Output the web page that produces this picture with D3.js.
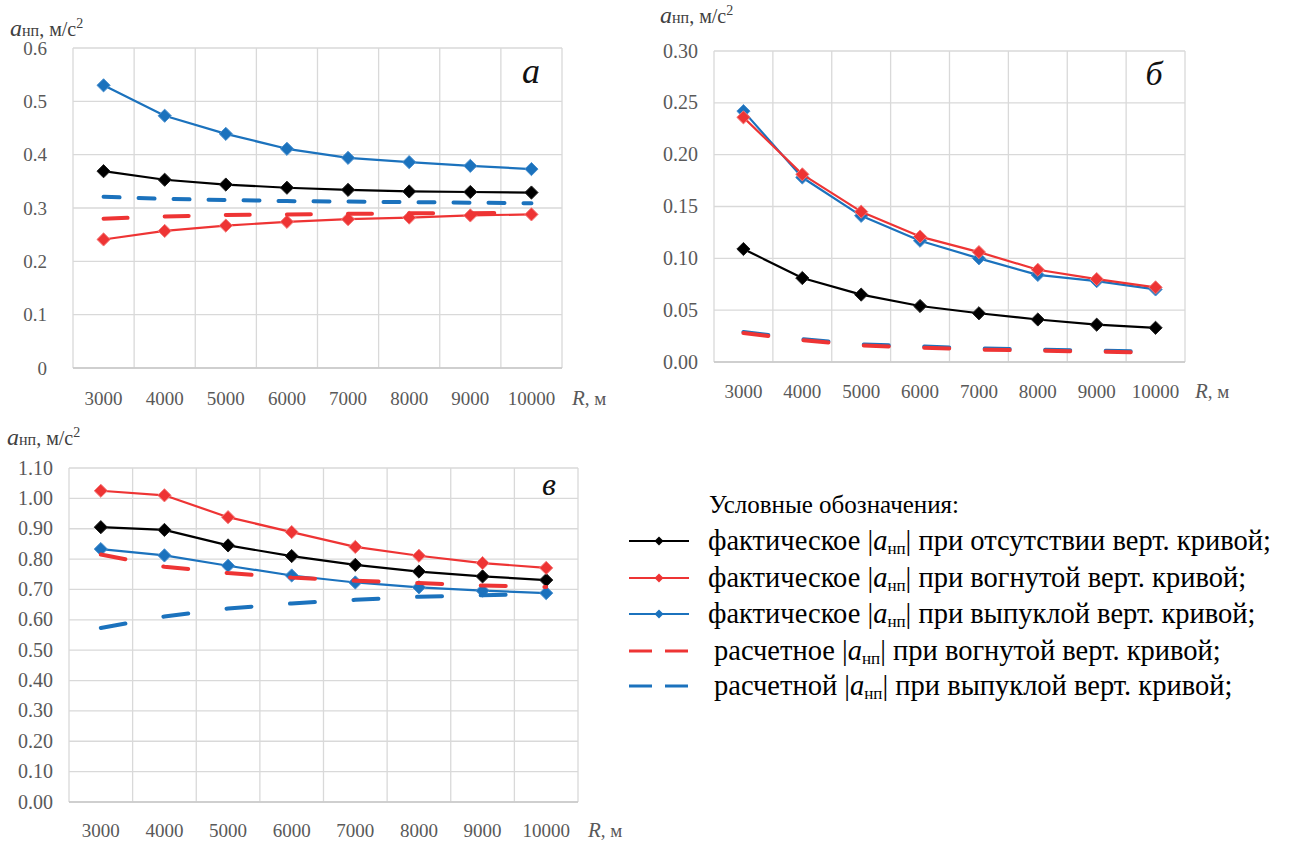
<!DOCTYPE html>
<html>
<head>
<meta charset="utf-8">
<script src="https://cdn.jsdelivr.net/npm/d3@7"></script>
<style>
  html, body { margin: 0; padding: 0; background: #fff; }
</style>
</head>
<body>
<svg id="fig" width="1289" height="842" font-family="'Liberation Serif', 'DejaVu Serif', serif"></svg>
<script>
// Радиус вертикальной кривой, м
const categories = [3000, 4000, 5000, 6000, 7000, 8000, 9000, 10000];

// График а
const aFactNone    = [0.369, 0.353, 0.344, 0.338, 0.334, 0.331, 0.330, 0.329];
const aFactConcave = [0.241, 0.257, 0.267, 0.274, 0.279, 0.282, 0.286, 0.288];
const aFactConvex  = [0.530, 0.473, 0.439, 0.411, 0.394, 0.386, 0.379, 0.373];
const aCalcConcave = [0.280, 0.284, 0.287, 0.288, 0.289, 0.290, 0.290, 0.291];
const aCalcConvex  = [0.321, 0.317, 0.315, 0.313, 0.312, 0.311, 0.310, 0.309];
const aTicks = [0, 0.1, 0.2, 0.3, 0.4, 0.5, 0.6];

// График б
const bFactNone    = [0.109, 0.081, 0.065, 0.054, 0.047, 0.041, 0.036, 0.033];
const bFactConcave = [0.236, 0.181, 0.145, 0.121, 0.106, 0.089, 0.080, 0.072];
const bFactConvex  = [0.242, 0.178, 0.141, 0.117, 0.100, 0.084, 0.078, 0.070];
const bCalcConcave = [0.028, 0.021, 0.016, 0.014, 0.012, 0.011, 0.010, 0.009];
const bCalcConvex  = [0.029, 0.022, 0.017, 0.015, 0.013, 0.012, 0.011, 0.010];
const bTicks = [0, 0.05, 0.10, 0.15, 0.20, 0.25, 0.30];

// График в
const cFactNone    = [0.905, 0.896, 0.845, 0.810, 0.781, 0.759, 0.743, 0.731];
const cFactConcave = [1.025, 1.010, 0.938, 0.889, 0.840, 0.811, 0.787, 0.771];
const cFactConvex  = [0.833, 0.812, 0.778, 0.746, 0.723, 0.707, 0.696, 0.688];
const cCalcConcave = [0.815, 0.775, 0.754, 0.739, 0.729, 0.721, 0.713, 0.708];
const cCalcConvex  = [0.573, 0.611, 0.637, 0.654, 0.666, 0.676, 0.681, 0.686];
const cTicks = [0, 0.1, 0.2, 0.3, 0.4, 0.5, 0.6, 0.7, 0.8, 0.9, 1.0, 1.1];

const legendTitle = "Условные обозначения:";
const legendItems = [
  { pre: "фактическое |", post: "| при отсутствии верт. кривой;", kind: "none" },
  { pre: "фактическое |", post: "| при вогнутой верт. кривой;", kind: "factConcave" },
  { pre: "фактическое |", post: "| при выпуклой верт. кривой;", kind: "factConvex" },
  { pre: "расчетное |", post: "| при вогнутой верт. кривой;", kind: "calcConcave" },
  { pre: "расчетной |", post: "| при выпуклой верт. кривой;", kind: "calcConvex" }
];

const BLACK = "#000000", RED = "#ee3434", BLUE = "#1b72bd";
const GRID = "#d9d9d9", TICK = "#595959";
const svg = d3.select("#fig");

const diamond = r => `M0,${-r}L${r},0L0,${r}L${-r},0Z`;

function drawChart(cfg) {
  const g = svg.append("g");
  const x = d3.scaleBand().domain(categories).range([cfg.left, cfg.right]).paddingInner(0).paddingOuter(0);
  const y = d3.scaleLinear().domain([0, cfg.max]).range([cfg.bottom, cfg.top]);
  const band = x.bandwidth();

  // горизонтальная сетка
  g.append("g").selectAll("line").data(cfg.ticks).join("line")
    .attr("x1", cfg.left).attr("x2", cfg.right)
    .attr("y1", d => y(d)).attr("y2", d => y(d))
    .attr("stroke", GRID).attr("stroke-width", 1.3);
  // вертикальная сетка по границам категорий
  const xs = categories.map(c => x(c)).concat([cfg.right]);
  g.append("g").selectAll("line").data(xs).join("line")
    .attr("x1", d => d).attr("x2", d => d)
    .attr("y1", cfg.top).attr("y2", cfg.bottom)
    .attr("stroke", GRID).attr("stroke-width", 1.3);
  // ось X
  g.append("line").attr("x1", cfg.left).attr("x2", cfg.right)
    .attr("y1", cfg.bottom).attr("y2", cfg.bottom)
    .attr("stroke", "#c9c9c9").attr("stroke-width", 1.5);

  // подписи оси Y
  g.append("g").selectAll("text").data(cfg.ticks).join("text")
    .attr("x", cfg.labelRight).attr("y", d => y(d) + 6.5)
    .attr("text-anchor", "end").attr("font-size", cfg.tickSize).attr("fill", TICK)
    .text(cfg.fmt);
  // подписи оси X
  g.append("g").selectAll("text").data(categories).join("text")
    .attr("x", d => x(d) + band / 2).attr("y", cfg.bottom + cfg.xLabelGap)
    .attr("text-anchor", "middle").attr("font-size", 19).attr("fill", TICK)
    .text(d => d);
  const rl = g.append("text").attr("x", cfg.right + 10).attr("y", cfg.bottom + cfg.xLabelGap)
    .attr("font-size", 19).attr("fill", TICK);
  rl.append("tspan").attr("font-style", "italic").attr("font-size", 21).text("R");
  rl.append("tspan").text(", м");

  // заголовок оси Y
  const t = g.append("text").attr("x", cfg.titleX).attr("y", cfg.titleY).attr("fill", "#404040");
  t.append("tspan").attr("font-style", "italic").attr("font-size", 24).text("a");
  t.append("tspan").attr("font-size", 16).text("нп");
  t.append("tspan").attr("font-size", 20).text(", м/с");
  t.append("tspan").attr("font-size", 14).attr("dy", -8).text("2");

  // буква графика
  g.append("text").attr("x", cfg.letterX).attr("y", cfg.letterY)
    .attr("font-style", "italic").attr("font-size", cfg.letterSize)
    .attr("fill", "#111").attr("text-anchor", "middle").text(cfg.letter);

  const line = d3.line().x((d, i) => x(categories[i]) + band / 2).y(d => y(d));

  function dashed(vals, color, dash) {
    g.append("path").datum(vals).attr("d", line)
      .attr("fill", "none").attr("stroke", color).attr("stroke-width", 4)
      .attr("stroke-linecap", "round")
      .attr("stroke-dasharray", dash.join(","));
  }
  function solid(vals, color, halo) {
    g.append("path").datum(vals).attr("d", line)
      .attr("fill", "none").attr("stroke", color).attr("stroke-width", 2.2)
      .attr("stroke-linejoin", "round");
    g.append("g").selectAll("path").data(vals).join("path")
      .attr("transform", (d, i) => `translate(${x(categories[i]) + band / 2},${y(d)})`)
      .attr("d", diamond(6.6))
      .attr("fill", color).attr("stroke", halo).attr("stroke-width", 1);
  }

  cfg.draw({ dashed, solid, band });
}

// а
drawChart({
  left: 73, right: 562, top: 48, bottom: 368, max: 0.6, ticks: aTicks,
  fmt: d => String(d), labelRight: 47, tickSize: 19, xLabelGap: 37,
  titleX: 10, titleY: 36, letter: "а", letterX: 531, letterY: 83, letterSize: 36,
  draw: ({ dashed, solid, band }) => {
    solid(aFactConvex, BLUE, "#4a90cf");
    solid(aFactNone, BLACK, "#222");
    solid(aFactConcave, RED, "#f47a7a");
    dashed(aCalcConvex, BLUE, [16, 19]);
    dashed(aCalcConcave, RED, [24, band - 24]);
  }
});

// б
drawChart({
  left: 714, right: 1185, top: 51, bottom: 362, max: 0.30, ticks: bTicks,
  fmt: d3.format(".2f"), labelRight: 698, tickSize: 20, xLabelGap: 36,
  titleX: 660, titleY: 23, letter: "б", letterX: 1154, letterY: 85, letterSize: 34,
  draw: ({ dashed, solid }) => {
    solid(bFactNone, BLACK, "#222");
    solid(bFactConvex, BLUE, "#4a90cf");
    solid(bFactConcave, RED, "#f47a7a");
    dashed(bCalcConvex, BLUE, [25, 35.5]);
    dashed(bCalcConcave, RED, [25, 35.5]);
  }
});

// в
drawChart({
  left: 69, right: 578, top: 468, bottom: 802, max: 1.10, ticks: cTicks,
  fmt: d3.format(".2f"), labelRight: 53, tickSize: 20, xLabelGap: 35,
  titleX: 7, titleY: 445, letter: "в", letterX: 549, letterY: 495, letterSize: 32,
  draw: ({ dashed, solid, band }) => {
    solid(cFactNone, BLACK, "#222");
    solid(cFactConcave, RED, "#f47a7a");
    solid(cFactConvex, BLUE, "#4a90cf");
    dashed(cCalcConvex, BLUE, [25, band - 25]);
    dashed(cCalcConcave, RED, [25, band - 25]);
  }
});

// Условные обозначения
const leg = svg.append("g");
leg.append("text").attr("x", 709).attr("y", 513).attr("font-size", 25).attr("fill", "#000").text(legendTitle);
const rowY = [541, 578, 614, 651, 686];
legendItems.forEach((it, i) => {
  const yy = rowY[i];
  const color = it.kind === "none" ? BLACK : (it.kind.endsWith("Concave") ? RED : BLUE);
  if (it.kind.startsWith("calc")) {
    leg.append("line").attr("x1", 629).attr("x2", 690).attr("y1", yy).attr("y2", yy)
      .attr("stroke", color).attr("stroke-width", 3)
      .attr("stroke-dasharray", "23,13");
  } else {
    leg.append("line").attr("x1", 629).attr("x2", 689).attr("y1", yy).attr("y2", yy)
      .attr("stroke", color).attr("stroke-width", 2);
    leg.append("path").attr("transform", `translate(659,${yy})`).attr("d", diamond(4.5)).attr("fill", color);
  }
  const tx = it.kind.startsWith("calc") ? 714 : 708;
  const tt = leg.append("text").attr("x", tx).attr("y", yy + 9).attr("font-size", 28.5).attr("fill", "#000");
  tt.append("tspan").text(it.pre);
  tt.append("tspan").attr("font-style", "italic").text("a");
  tt.append("tspan").attr("font-size", 17).attr("dy", 4).text("нп");
  tt.append("tspan").attr("dy", -4).text(it.post);
});
</script>
</body>
</html>
